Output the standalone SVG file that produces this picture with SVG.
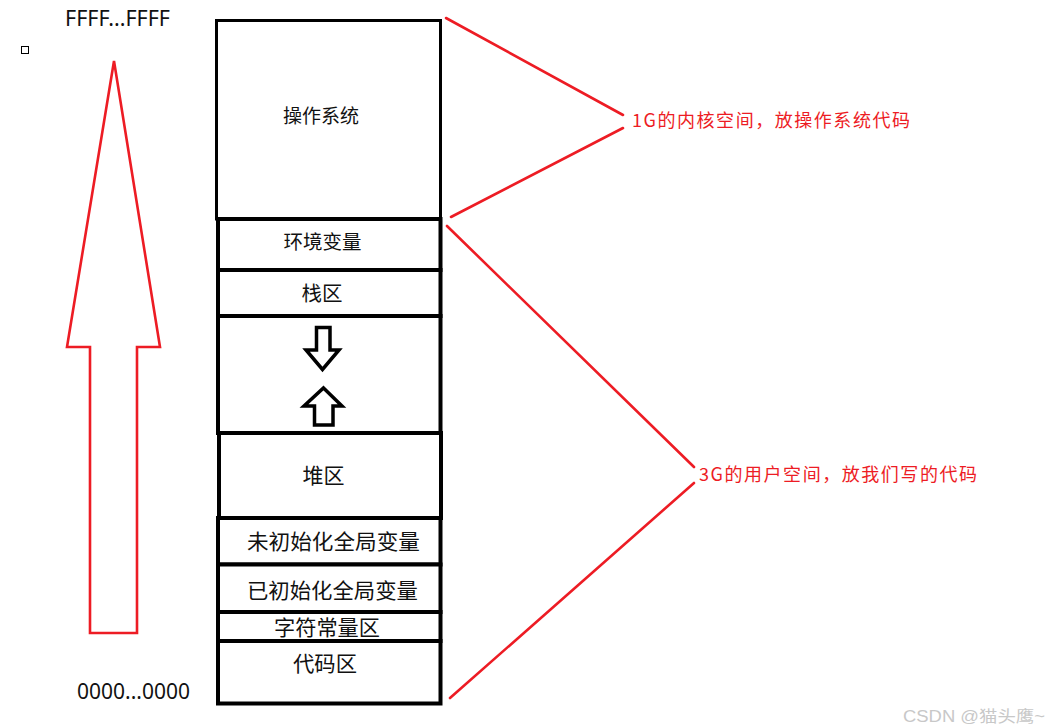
<svg xmlns="http://www.w3.org/2000/svg" width="1049" height="728" viewBox="0 0 1049 728">
  <style>
    .box { fill: #fff; stroke: #000; stroke-width: 4; }
    .lbl { font-family: "Noto Sans CJK SC", "Noto Sans", sans-serif; fill: #111; text-anchor: middle; dominant-baseline: central; }
    .red { fill: none; stroke: #ed1c24; stroke-width: 2.6; stroke-linecap: round; }
    .rtxt { font-family: "Noto Sans CJK SC", "Noto Sans", sans-serif; fill: #ed1c24; font-size: 18px; dominant-baseline: central; }
    .addr { font-family: "Noto Sans", "Liberation Sans", sans-serif; fill: #111; }
    .blk { fill: #fff; stroke: #000; stroke-width: 3.5; stroke-linejoin: miter; }
  </style>
  <rect width="1049" height="728" fill="#fff"/>

  <!-- address labels -->
  <text class="addr" x="65" y="26" font-size="22" textLength="105" lengthAdjust="spacingAndGlyphs">FFFF...FFFF</text>
  <text class="addr" x="77" y="699" font-size="22" textLength="113" lengthAdjust="spacingAndGlyphs">0000...0000</text>
  <rect x="21.5" y="46.5" width="7" height="7" fill="none" stroke="#000" stroke-width="1"/>

  <!-- big red up arrow -->
  <g id="address-arrow">
    <path class="red" stroke-width="3" stroke-linejoin="miter" d="M114,61 L160,347 L137,347 L137,633 L90,633 L90,347 L67,347 Z"/>
  </g>

  <!-- memory column -->
  <g id="os">
    <rect x="216.5" y="20.5" width="224" height="198.5" fill="#fff" stroke="#000" stroke-width="3"/>
    <text class="lbl" x="321" y="114" font-size="19">操作系统</text>
  </g>
  <g id="env">
    <rect class="box" x="218" y="219" width="222.5" height="51"/>
    <text class="lbl" x="322.5" y="240" font-size="19.5">环境变量</text>
  </g>
  <g id="stack">
    <rect class="box" x="218" y="270" width="222.5" height="46"/>
    <text class="lbl" x="322" y="291.5" font-size="20.5">栈区</text>
  </g>
  <g id="gap">
    <rect class="box" x="218" y="316" width="222.5" height="117"/>
    <path class="blk" d="M316.5,327.5 L330,327.5 L330,350 L339,350 L322.5,369.5 L306,350 L316.5,350 Z"/>
    <path class="blk" d="M323.5,388 L342,406 L333,406 L333,425 L314.5,425 L314.5,406 L304,406 Z"/>
  </g>
  <g id="heap">
    <rect class="box" x="219" y="433" width="222" height="85" stroke-width="5"/>
    <text class="lbl" x="323.5" y="473.5" font-size="21">堆区</text>
  </g>
  <g id="bss">
    <rect class="box" x="218" y="518" width="222.5" height="46.5"/>
    <text class="lbl" x="333.5" y="540" font-size="21" textLength="173" lengthAdjust="spacingAndGlyphs">未初始化全局变量</text>
  </g>
  <g id="data">
    <rect class="box" x="218" y="564.5" width="222.5" height="47.5"/>
    <text class="lbl" x="332.5" y="588.5" font-size="21" textLength="171" lengthAdjust="spacingAndGlyphs">已初始化全局变量</text>
  </g>
  <g id="rodata">
    <rect class="box" x="218" y="612" width="222.5" height="29"/>
    <text class="lbl" x="327" y="626" font-size="21" textLength="106" lengthAdjust="spacingAndGlyphs">字符常量区</text>
  </g>
  <g id="text-seg">
    <rect class="box" x="218" y="641" width="222.5" height="62.5"/>
    <text class="lbl" x="325" y="661.5" font-size="21" textLength="64" lengthAdjust="spacingAndGlyphs">代码区</text>
  </g>

  <!-- red annotation connectors -->
  <g id="connectors">
    <line class="red" x1="446" y1="18" x2="623" y2="115"/>
    <line class="red" x1="623" y1="128" x2="451" y2="217"/>
    <line class="red" x1="447" y1="226" x2="694" y2="467"/>
    <line class="red" x1="694" y1="483" x2="450" y2="698"/>
  </g>

  <g id="kernel-label">
    <text class="rtxt" x="632" y="119" textLength="278" lengthAdjust="spacing">1G的内核空间，放操作系统代码</text>
  </g>
  <g id="user-label">
    <text class="rtxt" x="699" y="473" textLength="278" lengthAdjust="spacing">3G的用户空间，放我们写的代码</text>
  </g>

  <text x="903" y="716" font-family="Liberation Sans, Noto Sans CJK SC, sans-serif" font-size="16" fill="#c8c8c8" dominant-baseline="central" textLength="142" lengthAdjust="spacingAndGlyphs">CSDN @猫头鹰~</text>
</svg>
